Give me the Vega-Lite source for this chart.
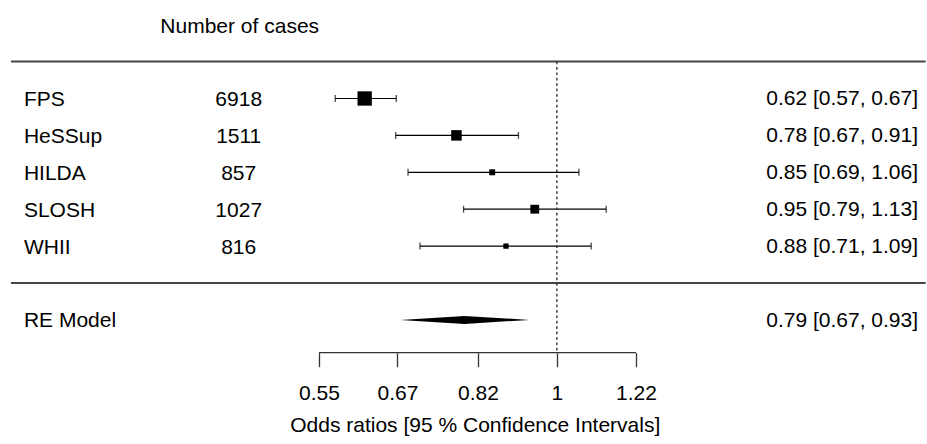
{
  "$schema": "https://vega.github.io/schema/vega-lite/v6.json",
  "width": 927,
  "height": 444,
  "padding": 0,
  "autosize": {"type": "fit", "contains": "padding"},
  "config": {"view": {"stroke": null}, "text": {"font": "Liberation Sans", "fontSize": 21, "color": "#000"}},
  "datasets": {
    "studies": [
      {"study": "FPS", "cases": 6918, "or": 0.617, "lower": 0.573, "upper": 0.668, "weight": 24.6, "ci": "0.62 [0.57, 0.67]", "row": 5},
      {"study": "HeSSup", "cases": 1511, "or": 0.777, "lower": 0.667, "upper": 0.908, "weight": 20.8, "ci": "0.78 [0.67, 0.91]", "row": 4},
      {"study": "HILDA", "cases": 857, "or": 0.85, "lower": 0.688, "upper": 1.057, "weight": 17.8, "ci": "0.85 [0.69, 1.06]", "row": 3},
      {"study": "SLOSH", "cases": 1027, "or": 0.946, "lower": 0.791, "upper": 1.132, "weight": 19.5, "ci": "0.95 [0.79, 1.13]", "row": 2},
      {"study": "WHII", "cases": 816, "or": 0.88, "lower": 0.709, "upper": 1.09, "weight": 17.5, "ci": "0.88 [0.71, 1.09]", "row": 1}
    ],
    "re": [
      {"label": "RE Model", "est": 0.793, "lower": 0.675, "upper": 0.934, "ci": "0.79 [0.67, 0.93]", "row": -1}
    ]
  },
  "data": {"values": [{}]},
  "layer": [
    {
      "data": {"name": "studies"},
      "mark": {"type": "rule", "color": "#000", "strokeWidth": 1.2},
      "encoding": {
        "x": {"field": "lower", "type": "quantitative",
          "scale": {"type": "log", "domain": [0.2468, 2.5281], "nice": false},
          "axis": {"values": [0.55, 0.67, 0.82, 1, 1.22], "labelExpr": "'' + datum.value", "title": null, "domain": false, "grid": false,
            "ticks": true, "tickSize": 14, "tickWidth": 1.3, "tickColor": "#333", "labelFont": "Liberation Sans", "labelFontSize": 21,
            "labelColor": "#000", "labelPadding": 16, "offset": -91.3, "orient": "bottom", "labelFlush": false, "labelOverlap": false}},
        "x2": {"field": "upper"},
        "y": {"field": "row", "type": "quantitative", "scale": {"domain": [-4.363, 7.669], "nice": false, "zero": false}, "axis": null}
      }
    },
    {
      "data": {"name": "studies"},
      "mark": {"type": "tick", "orient": "vertical", "size": 7, "thickness": 1.3, "color": "#000"},
      "encoding": {
        "x": {"field": "lower", "type": "quantitative"},
        "y": {"field": "row", "type": "quantitative", "axis": null}
      }
    },
    {
      "data": {"name": "studies"},
      "mark": {"type": "tick", "orient": "vertical", "size": 7, "thickness": 1.3, "color": "#000"},
      "encoding": {
        "x": {"field": "upper", "type": "quantitative"},
        "y": {"field": "row", "type": "quantitative", "axis": null}
      }
    },
    {
      "data": {"name": "studies"},
      "mark": {"type": "point", "shape": "square", "filled": true, "color": "#000", "opacity": 1, "strokeWidth": 0},
      "encoding": {
        "x": {"field": "or", "type": "quantitative"},
        "y": {"field": "row", "type": "quantitative", "axis": null},
        "size": {"field": "weight", "type": "quantitative", "scale": {"domain": [17.5, 24.6], "range": [28, 205]}, "legend": null}
      }
    },
    {
      "data": {"name": "re"},
      "transform": [{"fold": ["lower", "est", "upper"], "as": ["key", "value"]}],
      "mark": {"type": "area", "color": "#000", "opacity": 1,
        "yOffset": {"expr": "datum.key === 'est' ? -4 : 0"},
        "y2Offset": {"expr": "datum.key === 'est' ? 4 : 0"}},
      "encoding": {
        "x": {"field": "value", "type": "quantitative"},
        "y": {"field": "row", "type": "quantitative", "axis": null},
        "y2": {"field": "row"}
      }
    },
    {
      "mark": {"type": "rule", "color": "#444", "strokeWidth": 2},
      "encoding": {"x": {"datum": 0.2537}, "x2": {"datum": 2.526}, "y": {"datum": 6, "axis": null}}
    },
    {
      "mark": {"type": "rule", "color": "#444", "strokeWidth": 2},
      "encoding": {"x": {"datum": 0.2537}, "x2": {"datum": 2.526}, "y": {"datum": 0, "axis": null}}
    },
    {
      "mark": {"type": "rule", "color": "#333", "strokeWidth": 1.4, "strokeDash": [2.7, 2.7]},
      "encoding": {"x": {"datum": 1}, "y": {"datum": 6, "axis": null}, "y2": {"datum": -1.889}}
    },
    {
      "mark": {"type": "rule", "color": "#333", "strokeWidth": 1.3},
      "encoding": {"x": {"datum": 0.55}, "x2": {"datum": 1.22}, "y": {"datum": -1.889, "axis": null}}
    },
    {
      "data": {"name": "studies"},
      "mark": {"type": "text", "align": "left", "baseline": "middle", "dy": 2},
      "encoding": {"x": {"datum": 0.2621}, "y": {"field": "row", "type": "quantitative", "axis": null}, "text": {"field": "study"}}
    },
    {
      "data": {"name": "studies"},
      "mark": {"type": "text", "align": "center", "baseline": "middle", "dy": 2},
      "encoding": {"x": {"datum": 0.4496}, "y": {"field": "row", "type": "quantitative", "axis": null}, "text": {"field": "cases"}}
    },
    {
      "data": {"name": "studies"},
      "mark": {"type": "text", "align": "right", "baseline": "middle", "dy": 1},
      "encoding": {"x": {"datum": 2.478}, "y": {"field": "row", "type": "quantitative", "axis": null}, "text": {"field": "ci"}}
    },
    {
      "data": {"name": "re"},
      "mark": {"type": "text", "align": "left", "baseline": "middle", "dy": 1},
      "encoding": {"x": {"datum": 0.2621}, "y": {"field": "row", "type": "quantitative", "axis": null}, "text": {"field": "label"}}
    },
    {
      "data": {"name": "re"},
      "mark": {"type": "text", "align": "right", "baseline": "middle", "dy": 1},
      "encoding": {"x": {"datum": 2.478}, "y": {"field": "row", "type": "quantitative", "axis": null}, "text": {"field": "ci"}}
    },
    {
      "mark": {"type": "text", "align": "center", "baseline": "middle", "text": "Number of cases"},
      "encoding": {"x": {"datum": 0.4507}, "y": {"datum": 6.95, "axis": null}}
    },
    {
      "mark": {"type": "text", "align": "center", "baseline": "middle", "text": "Odds ratios [95 % Confidence Intervals]"},
      "encoding": {"x": {"datum": 0.8146}, "y": {"datum": -3.875, "axis": null}}
    }
  ]
}
